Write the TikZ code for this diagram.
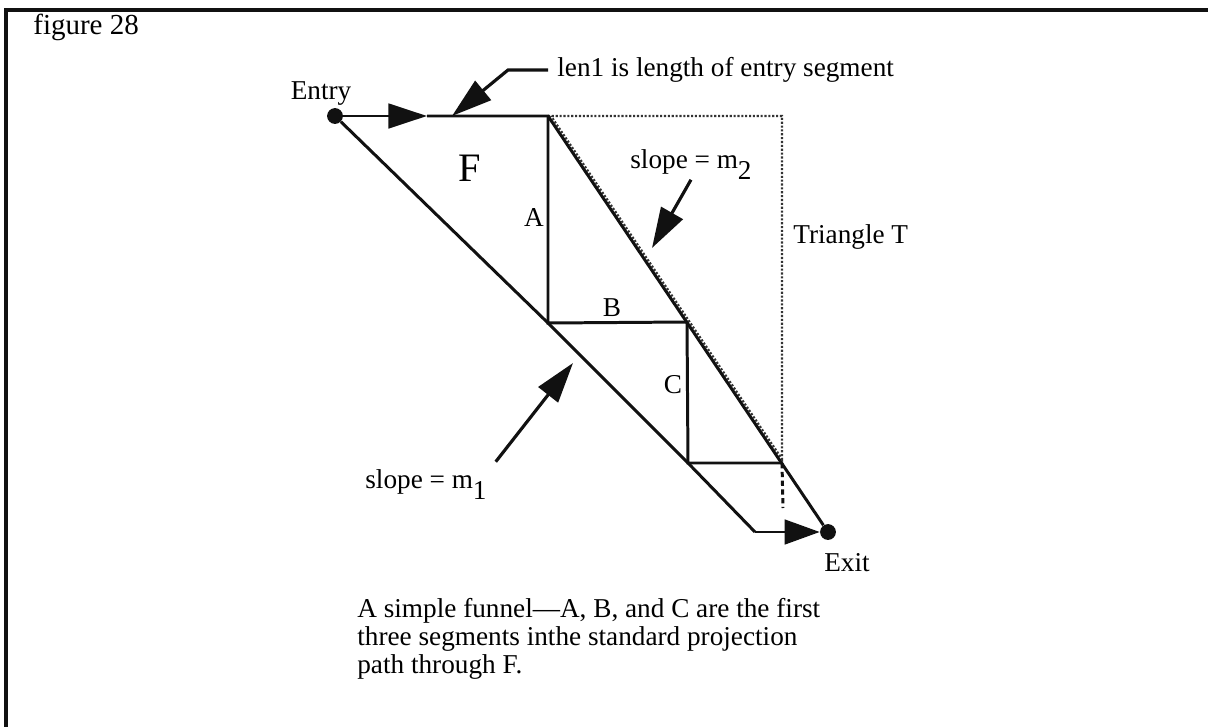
\documentclass[tikz,border=0pt]{standalone}
\usepackage{fontspec}
\setmainfont{Liberation Serif}
\usepackage{tikz}
\usetikzlibrary{arrows.meta,positioning,calc}
\definecolor{FunnelInk}{HTML}{111111}
\definecolor{FunnelDots}{HTML}{333333}

\tikzset{
  edge/.style={draw=FunnelInk,line width=1.7pt},
  ghost/.style={draw=FunnelDots,line width=1.2pt,densely dotted},
  pointer/.style={draw=FunnelInk,line width=1.8pt,-{Triangle[length=23pt,width=14pt]}},
  flow/.style={edge,-{Triangle[length=22pt,width=14pt]}},
  port/.style={circle,fill=FunnelInk,inner sep=0pt,minimum size=9pt},
  lbl/.style={font=\fontsize{15.5}{15.9}\selectfont,inner sep=0pt},
}

\begin{document}
\begin{tikzpicture}[x=0.02cm,y=-0.02cm]
\useasboundingbox (0,0) rectangle (1208,727);
% frame
\draw[edge,line width=1.8pt] (6,727) -- (6,10) -- (1208,10);
\node[lbl,anchor=west,font=\fontsize{16.5}{18}\selectfont] (fig) at (33,27) {figure 28};

% corners of the funnel and of the path
\node[port] (entry) at (335,116) {};
\node[port] (exit) at (828,532) {};
\coordinate (top) at (548,116);
\coordinate (abot) at (548,323);
\coordinate (bright) at (687,322);
\coordinate (cbot) at (688,463);
\coordinate (dright) at (782,463);
\coordinate (dashend) at (783,508);
\coordinate (low) at (755,532);
\coordinate (entryhead) at (427,116);
\coordinate (tcorner) at (782,116);
\coordinate (tfoot) at (782,459);

% triangle T
\draw[ghost] (top) -- (tcorner) -- (tfoot) -- ($(top)+(3,0)$);

% funnel F
\draw[flow] (entry) -- (entryhead);
\draw[edge] (entryhead) -- (top) -- (exit);
\draw[edge] (entry) -- (abot) -- (cbot) -- (low);
\draw[flow,-{Triangle[length=20pt,width=14pt]}] (low) -- (exit);

% projection path
\draw[edge] (top) -- (abot) -- (bright) -- (cbot) -- (dright);
\draw[edge,dash pattern=on 3pt off 2pt] (dright) -- (dashend);

% labels
\node[lbl] (entrylab) at (321,94) {Entry};
\node[lbl] (exitlab) at (847,563) {Exit};
\node[lbl,font=\fontsize{23}{26}\selectfont] (F) at (470,168) {F};
\node[lbl] (A) at (534,218) {A};
\node[lbl] (B) at (612,308) {B};
\node[lbl] (C) at (673,385) {C};
\node[lbl,anchor=west] (tlab) at (793,237) {Triangle T};
\node[lbl,anchor=west] (len1) at (557,70) {len1 is length of entry segment};
\node[lbl,anchor=base west] (m2lab) at (630,168) {slope = m\raisebox{-6.5pt}{2}};
\node[lbl,anchor=base west] (m1lab) at (365,488) {slope = m\raisebox{-6.5pt}{1}};

% pointers
\coordinate (lenbend) at (508,70);
\coordinate (lentip) at (452,116);
\coordinate (m2tip) at (652,248);
\coordinate (m1tip) at (573,363);
\draw[pointer] ([xshift=-5pt]len1.west) -- (lenbend) -- (lentip);
\draw[pointer] (m2lab.south) -- (m2tip);
\draw[pointer] ([shift={(5pt,4pt)}]m1lab.north east) -- (m1tip);

% caption
\node[lbl,anchor=north west,align=left] (caption) at (357,598)
  {A simple funnel---A, B, and C are the first\\three segments inthe standard projection\\path through F.};
\end{tikzpicture}
\end{document}
